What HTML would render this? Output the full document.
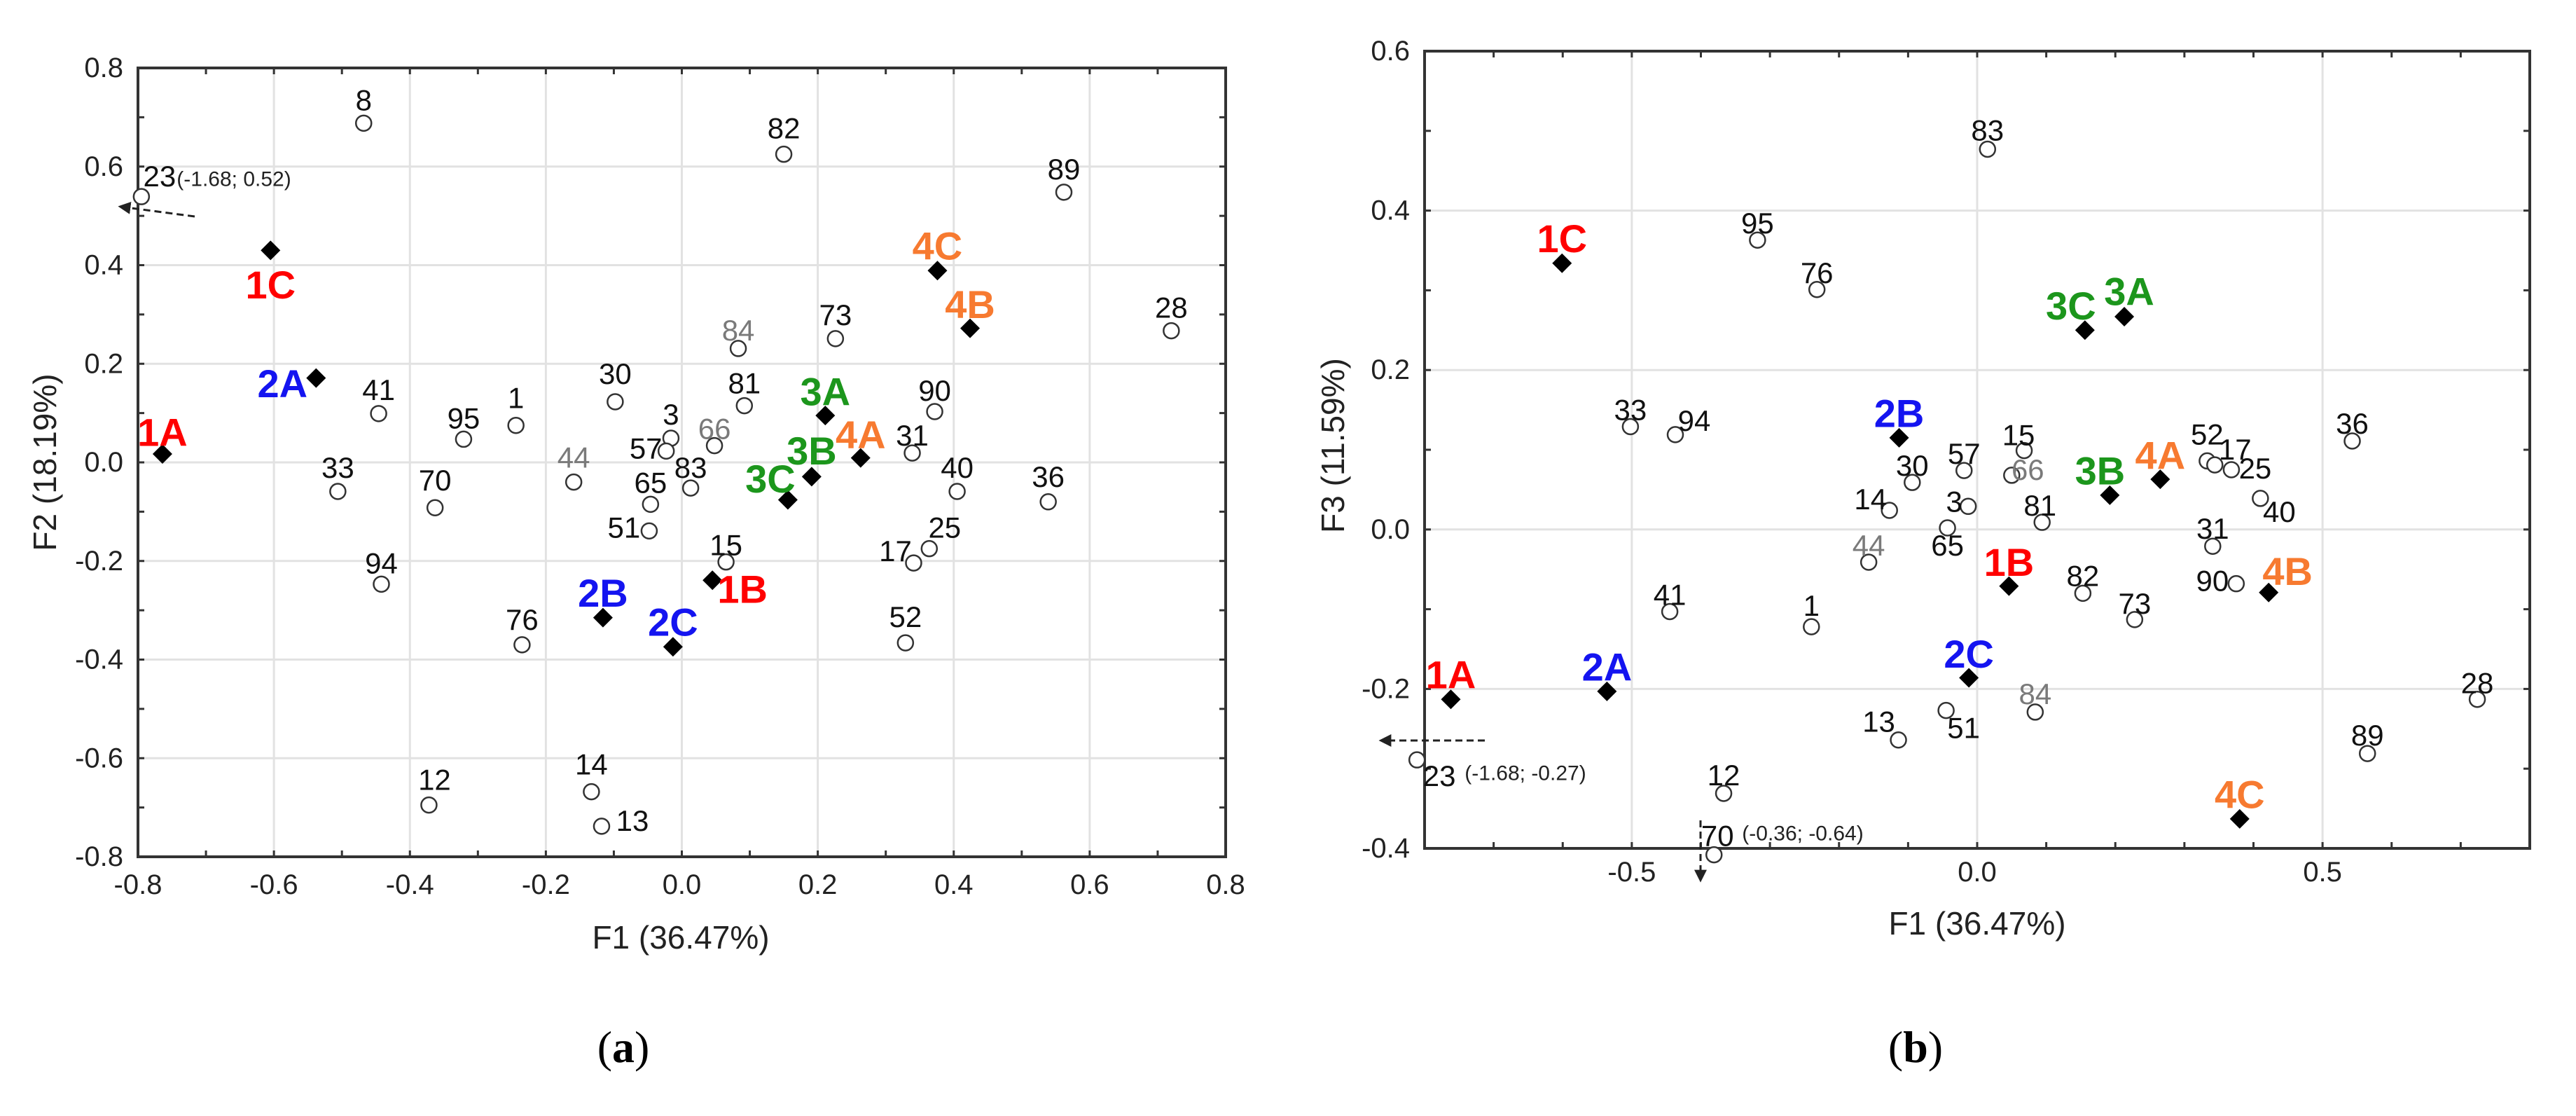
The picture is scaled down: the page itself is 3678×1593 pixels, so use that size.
<!DOCTYPE html>
<html><head><meta charset="utf-8"><style>
html,body{margin:0;padding:0;background:#fff;}
svg{display:block;font-family:"Liberation Sans",sans-serif;}
</style></head><body>
<svg id="chart" width="3678" height="1593" viewBox="0 0 3678 1593" xmlns="http://www.w3.org/2000/svg">
<defs><marker id="ah" viewBox="0 0 10 10" refX="8" refY="5" markerWidth="6" markerHeight="6" orient="auto" markerUnits="strokeWidth"><path d="M0,0 L10,5 L0,10 z" fill="#222"/></marker></defs>
<g id="pa"></g>
<g id="pb"></g>
</svg>
<script>
// Panel (a): F1 vs F2
const aLabels = ["8","82","89","23","1C","4C","28","4B","73","84","2A","30","81","41","90","3A","1","3","95","66","57","1A","31","4A","3B","44","33","40","83","3C","36","70","65","51","25","15","17","1B","94","2B","52","76","2C","14","12","13"];
const aF1 = [-0.468,0.150,0.562,-0.795,-0.605,0.376,0.720,0.424,0.226,0.083,-0.538,-0.098,0.092,-0.446,0.372,0.211,-0.244,-0.016,-0.321,0.048,-0.023,-0.764,0.339,0.263,0.191,-0.159,-0.506,0.405,0.013,0.156,0.539,-0.363,-0.046,-0.048,0.364,0.065,0.341,0.045,-0.442,-0.116,0.329,-0.235,-0.013,-0.133,-0.372,-0.118];
const aF2 = [0.688,0.625,0.548,0.539,0.430,0.389,0.267,0.272,0.251,0.231,0.171,0.123,0.115,0.099,0.103,0.095,0.075,0.049,0.047,0.034,0.023,0.017,0.019,0.009,-0.029,-0.040,-0.059,-0.059,-0.052,-0.076,-0.080,-0.092,-0.085,-0.139,-0.175,-0.202,-0.204,-0.239,-0.247,-0.315,-0.366,-0.370,-0.374,-0.668,-0.695,-0.738];
const aLabelDx = [0,0,0,26,0,0,0,0,0,0,-48,0,0,0,0,0,0,0,0,0,-29,0,0,0,0,0,0,0,0,-25,0,0,0,-36,22,0,-26,43,0,0,0,0,0,0,8,44];
const aLabelDy = [-33,-37,-33,-29,49,-35,-33,-34,-34,-26,8,-40,-32,-34,-30,-34,-39,-34,-30,-24,-4,-31,-25,-33,-37,-35,-34,-34,-29,-30,-36,-39,-31,-5,-30,-24,-17,13,-30,-35,-37,-36,-35,-39,-36,-8];
const aXTicks = [-0.8,-0.6,-0.4,-0.2,0.0,0.2,0.4,0.6,0.8];
const aXTickLabels = ["-0.8","-0.6","-0.4","-0.2","0.0","0.2","0.4","0.6","0.8"];
const aYTicks = [-0.8,-0.6,-0.4,-0.2,0.0,0.2,0.4,0.6,0.8];
const aYTickLabels = ["-0.8","-0.6","-0.4","-0.2","0.0","0.2","0.4","0.6","0.8"];

// Panel (b): F1 vs F3
const bLabels = ["83","95","1C","76","3A","3C","33","94","2B","15","36","52","17","25","57","66","4A","30","40","3B","3","14","81","65","31","44","1B","90","82","4B","41","73","1","2C","1A","2A","28","51","84","13","23","89","12","4C","70"];
const bF1 = [0.015,-0.318,-0.601,-0.232,0.213,0.156,-0.502,-0.437,-0.113,0.068,0.543,0.333,0.344,0.368,-0.019,0.050,0.265,-0.094,0.410,0.192,-0.013,-0.127,0.094,-0.043,0.341,-0.157,0.046,0.375,0.153,0.422,-0.445,0.228,-0.240,-0.012,-0.762,-0.536,0.724,-0.045,0.084,-0.114,-0.811,0.565,-0.367,0.380,-0.381];
const bF3 = [0.477,0.363,0.334,0.301,0.267,0.250,0.129,0.119,0.115,0.099,0.111,0.086,0.081,0.075,0.074,0.068,0.063,0.059,0.039,0.043,0.029,0.024,0.009,0.002,-0.021,-0.041,-0.071,-0.068,-0.080,-0.079,-0.103,-0.113,-0.122,-0.186,-0.213,-0.203,-0.213,-0.227,-0.229,-0.264,-0.289,-0.281,-0.331,-0.363,-0.408];
const bLabelDx = [0,0,0,0,7,-20,0,27,0,-8,0,0,29,34,0,23,0,0,27,-14,-20,-27,-3,0,0,0,0,-34,0,27,0,0,0,0,0,0,0,25,0,-28,32,0,0,0,5];
const bLabelDy = [-27,-24,-35,-24,-36,-35,-24,-20,-35,-22,-25,-38,-22,-2,-24,-8,-34,-24,19,-35,-7,-16,-24,25,-25,-24,-34,-4,-25,-30,-24,-23,-30,-34,-35,-35,-23,25,-26,-26,23,-26,-26,-35,-27];
const bXTicks = [-0.5,0.0,0.5];
const bXTickLabels = ["-0.5","0.0","0.5"];
const bYTicks = [-0.4,-0.2,0.0,0.2,0.4,0.6];
const bYTickLabels = ["-0.4","-0.2","0.0","0.2","0.4","0.6"];

const NS="http://www.w3.org/2000/svg";
function mk(parent,tag,attrs,text){const e=document.createElementNS(NS,tag);for(const k in attrs)e.setAttribute(k,attrs[k]);if(text!==undefined)e.textContent=text;parent.appendChild(e);return e;}
const grayLabels=["84","66","44"];
function treatColor(l){const c=l[0];return c==="1"?"#ff0000":c==="2"?"#1414f0":c==="3"?"#1c961c":"#f77a30";}
function isTreat(l){return /^[1-4][ABC]$/.test(l);}

function drawPanel(g,cfg){
  const {L,R,T,B,xmin,xmax,ymin,ymax}=cfg;
  const sx=v=>L+(v-xmin)/(xmax-xmin)*(R-L);
  const sy=v=>B-(v-ymin)/(ymax-ymin)*(B-T);
  cfg.xTicks.forEach((t,i)=>{
    const gl=mk(g,"line",{x1:sx(t),x2:sx(t),y1:T,y2:B,stroke:"#e2e2e2","stroke-width":3});
    
    
    const tl=mk(g,"text",{x:sx(t),y:cfg.xTickY,"font-size":40,fill:"#222","text-anchor":"middle","dominant-baseline":"central"},cfg.xTickLabels[i]);
    
    
  });
  cfg.yTicks.forEach((t,i)=>{
    const gl=mk(g,"line",{x1:L,x2:R,y1:sy(t),y2:sy(t),stroke:"#e2e2e2","stroke-width":3});
    
    
    const tl=mk(g,"text",{x:L-21,y:sy(t),"font-size":40,fill:"#222","text-anchor":"end","dominant-baseline":"central"},cfg.yTickLabels[i]);
    
    
  });
  for(let v=Math.ceil(xmin*10)/10; v<=xmax+1e-9; v+=0.1){
    mk(g,"line",{x1:sx(v),x2:sx(v),y1:T,y2:T+9,stroke:"#333","stroke-width":3});
    mk(g,"line",{x1:sx(v),x2:sx(v),y1:B,y2:B-9,stroke:"#333","stroke-width":3});
  }
  for(let v=Math.ceil(ymin*10)/10; v<=ymax+1e-9; v+=0.1){
    mk(g,"line",{x1:L,x2:L+9,y1:sy(v),y2:sy(v),stroke:"#333","stroke-width":3});
    mk(g,"line",{x1:R,x2:R-9,y1:sy(v),y2:sy(v),stroke:"#333","stroke-width":3});
  }
  const fr=mk(g,"rect",{x:L,y:T,width:R-L,height:B-T,fill:"none",stroke:"#333","stroke-width":4});
  
  
  cfg.labels.forEach((lab,i)=>{
    const px=sx(cfg.xs[i]), py=sy(cfg.ys[i]);
    const lx=px+cfg.dx[i], ly=py+cfg.dy[i];
    if(isTreat(lab)){
      const d=mk(g,"polygon",{points:`${px},${py-14} ${px+14},${py} ${px},${py+14} ${px-14},${py}`,fill:"#000"});
      
      
      const t=mk(g,"text",{x:lx,y:ly,"font-size":56,"font-weight":"bold",fill:treatColor(lab),"text-anchor":"middle","dominant-baseline":"central"},lab);
      
      
    } else {
      const c=mk(g,"circle",{cx:px,cy:py,r:11,fill:"#fff",stroke:"#333","stroke-width":2.5});
      
      
      const t=mk(g,"text",{x:lx,y:ly,"font-size":42,fill:grayLabels.includes(lab)?"#7a7a7a":"#111","text-anchor":"middle","dominant-baseline":"central"},lab);
      
      
    }
  });
  const xt=mk(g,"text",{x:cfg.xTitle[0],y:cfg.xTitle[1],"font-size":46,fill:"#222","text-anchor":"middle","dominant-baseline":"central"},"F1 (36.47%)");
  
  
  const yt=mk(g,"text",{x:0,y:0,"font-size":46,fill:"#222","text-anchor":"middle","dominant-baseline":"central",transform:`translate(${cfg.yTitle[0]},${cfg.yTitle[1]}) rotate(-90)`},cfg.yTitleText);
  
  
  const pl=mk(g,"text",{x:cfg.panelLbl[0],y:cfg.panelLbl[1],"font-size":64,fill:"#000","text-anchor":"middle","dominant-baseline":"central","font-family":"Liberation Serif, serif"});
  
  
  mk(pl,"tspan",{},"(");mk(pl,"tspan",{"font-weight":"bold"},cfg.panelLetter);mk(pl,"tspan",{},")");
}

const ga=document.getElementById("pa");
drawPanel(ga,{L:197,R:1750,T:97,B:1223,xmin:-0.8,xmax:0.8,ymin:-0.8,ymax:0.8,
  labels:aLabels,xs:aF1,ys:aF2,dx:aLabelDx,dy:aLabelDy,
  xTicks:aXTicks,xTickLabels:aXTickLabels,yTicks:aYTicks,yTickLabels:aYTickLabels,xTickY:1263,
  xTitle:[972,1338],yTitle:[64,660],yTitleText:"F2 (18.19%)",panelLbl:[890,1494],panelLetter:"a"});
const gb=document.getElementById("pb");
drawPanel(gb,{L:2034,R:3612,T:73,B:1211,xmin:-0.8,xmax:0.8,ymin:-0.4,ymax:0.6,
  labels:bLabels,xs:bF1,ys:bF3,dx:bLabelDx,dy:bLabelDy,
  xTicks:bXTicks,xTickLabels:bXTickLabels,yTicks:bYTicks,yTickLabels:bYTickLabels,xTickY:1245,
  xTitle:[2823,1318],yTitle:[1903,636],yTitleText:"F3 (11.59%)",panelLbl:[2735,1494],panelLetter:"b"});

function arrow(g,x1,y1,x2,y2,name){const a=mk(g,"line",{x1,y1,x2,y2,stroke:"#222","stroke-width":3,"stroke-dasharray":"10,6","marker-end":"url(#ah)"});}
function note(g,x,y,t,name){const n=mk(g,"text",{x,y,"font-size":30,fill:"#222","text-anchor":"middle","dominant-baseline":"central"},t);}
arrow(ga,278,309,172,295,'offscale-arrow-23');
note(ga,334,256,"(-1.68; 0.52)",'offscale-note-23');
arrow(gb,2120,1057,1972,1057,'offscale-arrow-23');
note(gb,2178,1104,"(-1.68; -0.27)",'offscale-note-23');
arrow(gb,2428,1171,2428,1256,'offscale-arrow-70');
note(gb,2574,1190,"(-0.36; -0.64)",'offscale-note-70');
</script>
</body></html>
